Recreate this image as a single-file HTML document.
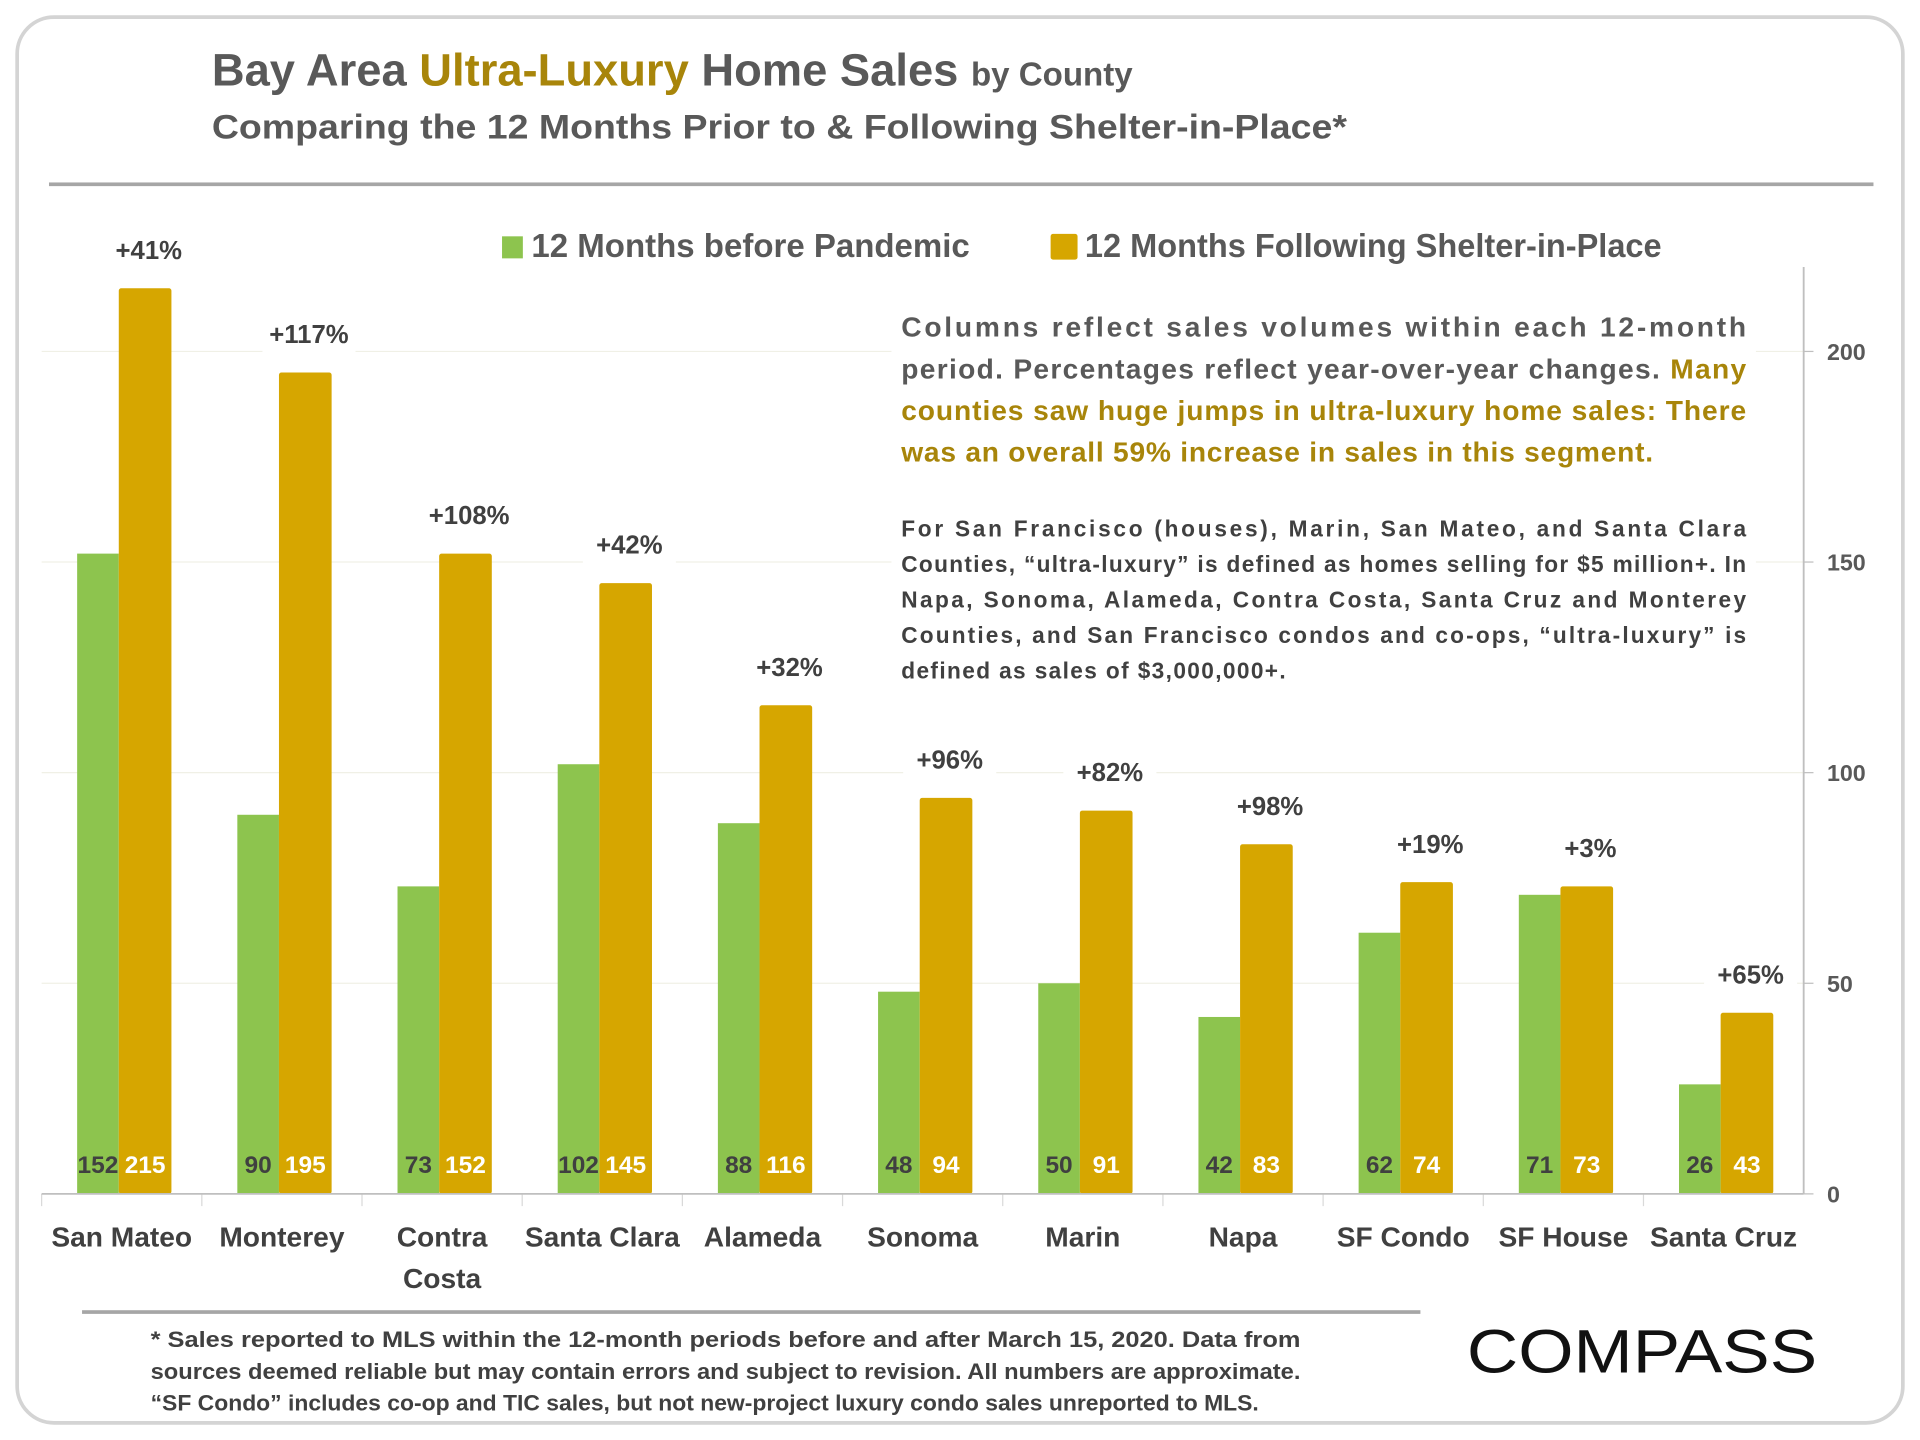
<!DOCTYPE html>
<html><head><meta charset="utf-8"><style>
html,body{margin:0;padding:0;background:#fff;width:1920px;height:1440px;overflow:hidden}
svg text{font-family:"Liberation Sans",sans-serif;font-weight:bold}
</style></head><body>
<svg id="chart" width="1920" height="1440" viewBox="0 0 1568 1176" xmlns="http://www.w3.org/2000/svg">
<rect x="14" y="14" width="1540" height="1148" rx="30" fill="#fff" stroke="#d4d4d4" stroke-width="3"/>
<text x="173" y="70" font-size="37" fill="#595959" textLength="752" lengthAdjust="spacingAndGlyphs">Bay Area <tspan fill="#A8850A">Ultra-Luxury</tspan> Home Sales <tspan font-size="27">by County</tspan></text>
<text x="173" y="113" font-size="28" fill="#595959" textLength="927" lengthAdjust="spacingAndGlyphs">Comparing the 12 Months Prior to &amp; Following Shelter-in-Place*</text>
<rect x="40" y="149" width="1490" height="3" fill="#a6a6a6"/>
<g>
<rect x="410" y="193" width="17" height="18" fill="#8DC44E"/>
<text x="434" y="210" font-size="27" fill="#595959" textLength="358" lengthAdjust="spacingAndGlyphs">12 Months before Pandemic</text>
<rect x="858" y="191" width="22" height="21" rx="2" fill="#D6A600"/>
<text x="886" y="210" font-size="27" fill="#595959" textLength="471" lengthAdjust="spacingAndGlyphs">12 Months Following Shelter-in-Place</text>
</g>
<g id="grid"></g>
<g id="bars"></g>
<line x1="34" y1="975" x2="1473" y2="975" stroke="#bfbfbf" stroke-width="1.5"/>
<line x1="1473" y1="218" x2="1473" y2="975" stroke="#bfbfbf" stroke-width="1.5"/>
<g id="yticks"></g>
<g id="labels"></g>
<g font-size="23" fill="#595959">
<rect x="728" y="240" width="706" height="320" fill="#fff"/>
<text x="736" y="275" textLength="690" lengthAdjust="spacing">Columns reflect sales volumes within each 12-month</text>
<text x="736" y="309" textLength="690" lengthAdjust="spacing">period. Percentages reflect year-over-year changes. <tspan fill="#A8850A">Many</tspan></text>
<text x="736" y="343" textLength="690" lengthAdjust="spacing" fill="#A8850A">counties saw huge jumps in ultra-luxury home sales: There</text>
<text x="736" y="377" textLength="614" lengthAdjust="spacing" fill="#A8850A">was an overall 59% increase in sales in this segment.</text>
</g>
<g font-size="18.5" fill="#404040">
<text x="736" y="438" textLength="690" lengthAdjust="spacing">For San Francisco (houses), Marin, San Mateo, and Santa Clara</text>
<text x="736" y="467" textLength="690" lengthAdjust="spacing">Counties, “ultra-luxury” is defined as homes selling for $5 million+. In</text>
<text x="736" y="496" textLength="690" lengthAdjust="spacing">Napa, Sonoma, Alameda, Contra Costa, Santa Cruz and Monterey</text>
<text x="736" y="525" textLength="690" lengthAdjust="spacing">Counties, and San Francisco condos and co-ops, “ultra-luxury” is</text>
<text x="736" y="554" textLength="314" lengthAdjust="spacing">defined as sales of $3,000,000+.</text>
</g>
<rect x="67" y="1070" width="1093" height="3" fill="#a6a6a6"/>
<g font-size="18" fill="#404040">
<text x="123" y="1100" textLength="939" lengthAdjust="spacingAndGlyphs">* Sales reported to MLS within the 12-month periods before and after March 15, 2020. Data from</text>
<text x="123" y="1126" textLength="939" lengthAdjust="spacingAndGlyphs">sources deemed reliable but may contain errors and subject to revision.  All numbers are approximate.</text>
<text x="123" y="1152" textLength="905" lengthAdjust="spacingAndGlyphs">“SF Condo” includes co-op and TIC sales, but not new-project luxury condo sales unreported to MLS.</text>
</g>
<text x="1198" y="1121" font-size="50" fill="#111" textLength="286" lengthAdjust="spacingAndGlyphs" style="font-weight:normal">COMPASS</text>
</svg>
<script>
const categories = ["San Mateo","Monterey","Contra Costa","Santa Clara","Alameda","Sonoma","Marin","Napa","SF Condo","SF House","Santa Cruz"];
const beforeValues = [152,90,73,102,88,48,50,42,62,71,26];
const afterValues = [215,195,152,145,116,94,91,83,74,73,43];
const pctLabels = ["+41%","+117%","+108%","+42%","+32%","+96%","+82%","+98%","+19%","+3%","+65%"];
const yTicks = [0,50,100,150,200];

const NS = "http://www.w3.org/2000/svg";
const x0 = 34, x1 = 1473, yZero = 975, pxPerUnit = 3.44;
const band = (x1 - x0) / categories.length;
function yScale(v){ return yZero - v * pxPerUnit; }
function xBand(i){ return x0 + i * band; }
function mk(tag, attrs, parent){ const e = document.createElementNS(NS, tag); for (const k in attrs) e.setAttribute(k, attrs[k]); parent.appendChild(e); return e; }

const grid = document.getElementById('grid');
const yt = document.getElementById('yticks');
yTicks.forEach(t => {
  const y = yScale(t);
  if (t > 0) {
    const g = mk('line', {x1: x0, x2: x1, y1: y, y2: y, stroke: '#f0f0e6', 'stroke-width': 1}, grid);
    
    
  }
  const tk = mk('line', {x1: x1, x2: x1 + 8, y1: y, y2: y, stroke: '#bfbfbf', 'stroke-width': 1}, yt);
  
  
  const tx = mk('text', {x: 1492, y: y + 7, 'font-size': 19, fill: '#595959'}, yt);
  tx.textContent = t;
  
  
});

const bars = document.getElementById('bars');
const labels = document.getElementById('labels');
categories.forEach((c, i) => {
  const bx = xBand(i);
  const gx = bx + 29, gw = 34, ax = bx + 63, aw = 43;
  const gb = mk('rect', {x: gx, y: yScale(beforeValues[i]), width: gw, height: beforeValues[i] * pxPerUnit, fill: '#8DC44E'}, bars);
  
  
  const ab = mk('rect', {x: ax, y: yScale(afterValues[i]), width: aw, height: afterValues[i] * pxPerUnit, rx: 2, fill: '#D6A600'}, bars);
  
  
  const tick = mk('line', {x1: bx, x2: bx, y1: yZero, y2: yZero + 10, stroke: '#d9d9d9'}, bars);
  
  

  const lb = mk('text', {x: gx + gw / 2, y: 958, 'font-size': 20, fill: '#404040', 'text-anchor': 'middle'}, labels);
  lb.textContent = beforeValues[i];
  
  
  const la = mk('text', {x: ax + aw / 2, y: 958, 'font-size': 20, fill: '#fff', 'text-anchor': 'middle'}, labels);
  la.textContent = afterValues[i];
  
  

  const px = ax + aw / 2 + 3, py = yScale(afterValues[i]) - 24;
  const bg = mk('rect', {x: px - 38, y: py - 24, width: 76, height: 32, fill: '#fff'}, labels);
  
  
  const pl = mk('text', {x: px, y: py, 'font-size': 21, fill: '#404040', 'text-anchor': 'middle'}, labels);
  pl.textContent = pctLabels[i];
  
  

  const parts = c === 'Contra Costa' ? ['Contra', 'Costa'] : [c];
  parts.forEach((p, j) => {
    const cl = mk('text', {x: bx + band / 2, y: 1018 + j * 34, 'font-size': 23, fill: '#404040', 'text-anchor': 'middle'}, labels);
    cl.textContent = p;
    
    
  });
});
</script>
</body></html>
